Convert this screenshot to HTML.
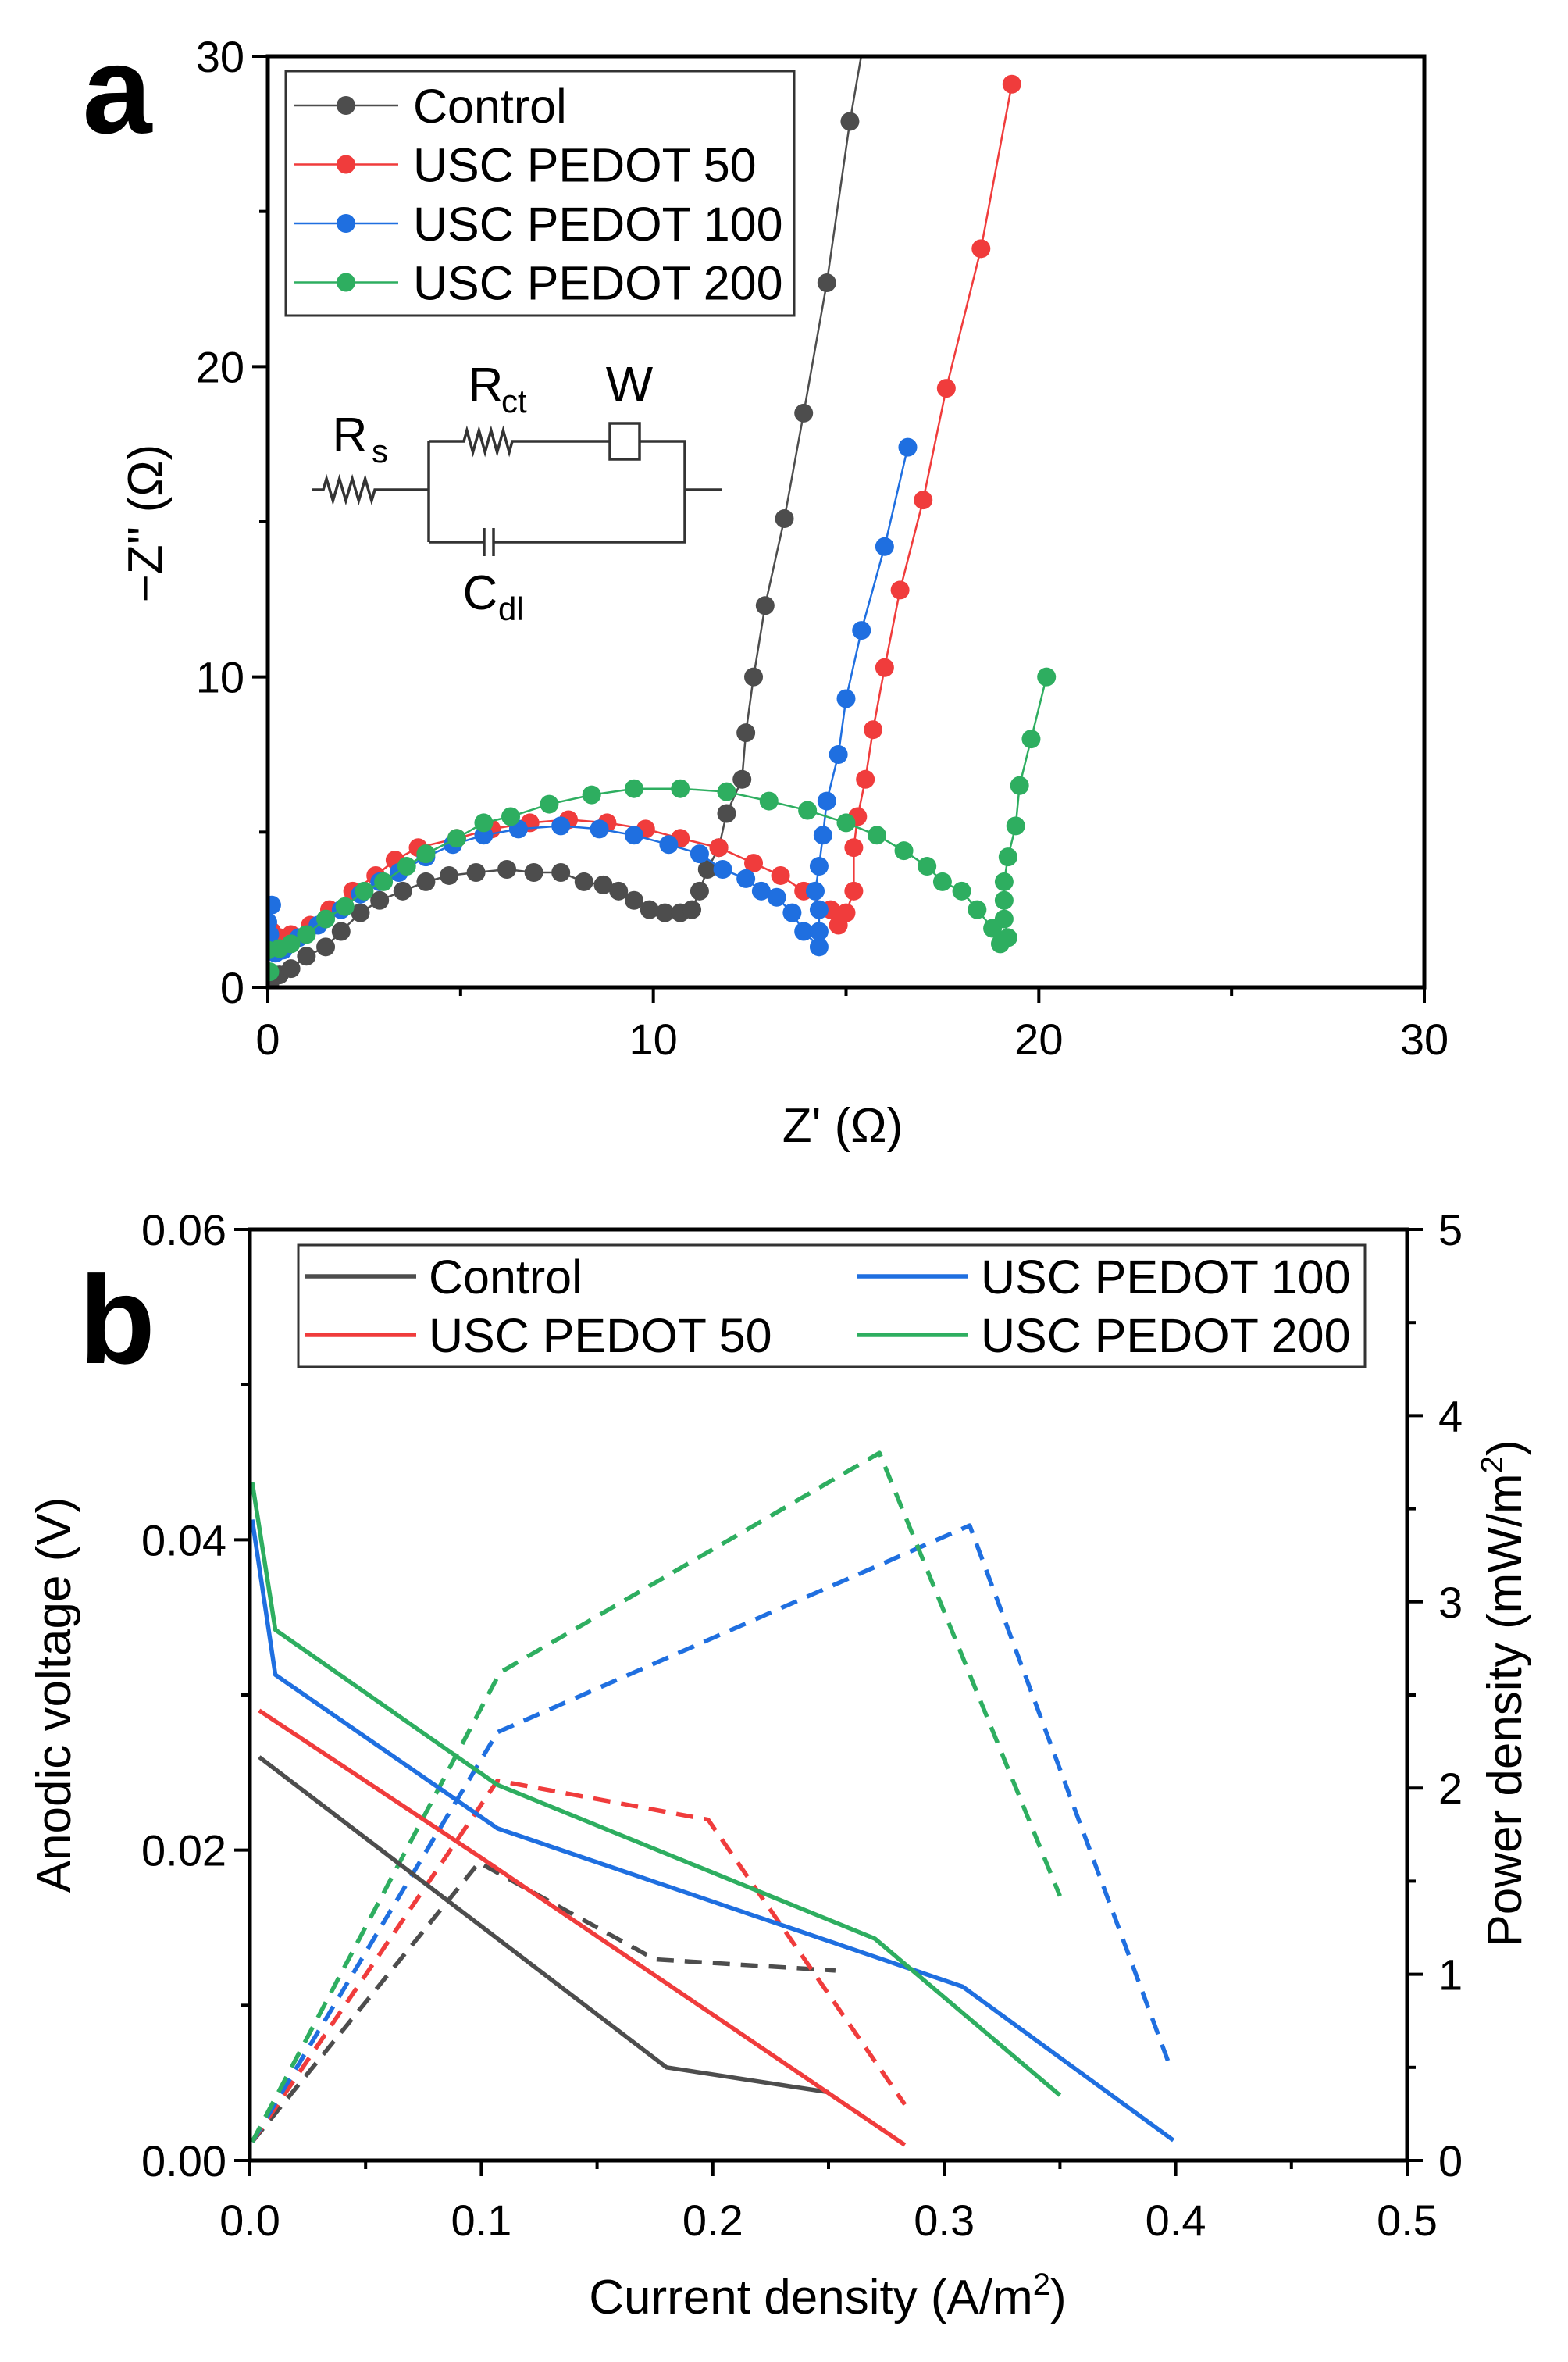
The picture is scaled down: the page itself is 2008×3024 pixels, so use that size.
<!DOCTYPE html>
<html><head><meta charset="utf-8">
<style>
html,body{margin:0;padding:0;background:#fff;}
svg{display:block;font-family:"Liberation Sans",sans-serif;}
</style></head>
<body>
<svg id="fig" width="2008" height="3024" viewBox="0 0 2008 3024" xmlns="http://www.w3.org/2000/svg"></svg>
<script>
// ---------- Panel a data (Nyquist) ----------
const ctrlX=[0.05,0.3,0.6,1.0,1.5,1.9,2.4,2.9,3.5,4.1,4.7,5.4,6.2,6.9,7.6,8.2,8.7,9.1,9.5,9.9,10.3,10.7,11.0,11.2,11.4,11.7,11.9,12.3,12.4,12.6,12.9,13.4,13.9,14.5,15.1,15.6];
const ctrlY=[0.1,0.4,0.6,1.0,1.3,1.8,2.4,2.8,3.1,3.4,3.6,3.7,3.8,3.7,3.7,3.4,3.3,3.1,2.8,2.5,2.4,2.4,2.5,3.1,3.8,4.5,5.6,6.7,8.2,10.0,12.3,15.1,18.5,22.7,27.9,31.5];
const p50X=[0.0,0.1,0.3,0.6,1.1,1.6,2.2,2.8,3.3,3.9,4.9,5.8,6.8,7.8,8.8,9.8,10.7,11.7,12.6,13.3,13.9,14.6,14.8,15.0,15.2,15.2,15.3,15.5,15.7,16.0,16.4,17.0,17.6,18.5,19.3];
const p50Y=[1.4,1.8,1.6,1.7,2.0,2.5,3.1,3.6,4.1,4.5,4.8,5.1,5.3,5.4,5.3,5.1,4.8,4.5,4.0,3.6,3.1,2.5,2.0,2.4,3.1,4.5,5.5,6.7,8.3,10.3,12.8,15.7,19.3,23.8,29.1];
const p100X=[0.0,0.1,0.05,0.2,0.4,0.8,1.3,1.9,2.4,2.9,3.4,4.1,4.8,5.6,6.5,7.6,8.6,9.5,10.4,11.2,11.8,12.4,12.8,13.2,13.6,13.9,14.3,14.3,14.3,14.2,14.3,14.4,14.5,14.8,15.0,15.4,16.0,16.6];
const p100Y=[2.1,2.65,1.7,1.1,1.2,1.6,2.0,2.5,3.0,3.4,3.7,4.2,4.6,4.9,5.1,5.2,5.1,4.9,4.6,4.3,3.8,3.5,3.1,2.9,2.4,1.8,1.3,1.8,2.5,3.1,3.9,4.9,6.0,7.5,9.3,11.5,14.2,17.4];
const p200X=[0.05,0.0,0.3,0.6,1.0,1.5,2.0,2.5,3.0,3.6,4.1,4.9,5.6,6.3,7.3,8.4,9.5,10.7,11.9,13.0,14.0,15.0,15.8,16.5,17.1,17.5,18.0,18.4,18.8,19.0,19.2,19.1,19.1,19.1,19.2,19.4,19.5,19.8,20.2];
const p200Y=[0.5,1.2,1.25,1.4,1.7,2.2,2.6,3.1,3.4,3.9,4.3,4.8,5.3,5.5,5.9,6.2,6.4,6.4,6.3,6.0,5.7,5.3,4.9,4.4,3.9,3.4,3.1,2.5,1.9,1.4,1.6,2.2,2.8,3.4,4.2,5.2,6.5,8.0,10.0];
const aTicks=[0,10,20,30];

// ---------- Panel b data (polarization & power) ----------
const ctrlI=[0.004,0.18,0.25];      const ctrlV=[0.026,0.006,0.0044];
const ctrlPI=[0.001,0.099,0.175,0.253]; const ctrlP=[0.1,1.6,1.08,1.02];
const r50I=[0.004,0.1,0.2,0.283];  const r50V=[0.029,0.0195,0.0094,0.001];
const r50PI=[0.001,0.107,0.198,0.283]; const r50P=[0.1,2.04,1.83,0.3];
const r100I=[0.001,0.011,0.107,0.308,0.399]; const r100V=[0.0413,0.0313,0.0214,0.0112,0.0013];
const r100PI=[0.001,0.107,0.311,0.398]; const r100P=[0.1,2.3,3.41,0.49];
const r200I=[0.001,0.011,0.107,0.27,0.35]; const r200V=[0.0437,0.0342,0.0242,0.0143,0.0042];
const r200PI=[0.001,0.108,0.272,0.35]; const r200P=[0.1,2.62,3.8,1.42];
const bXTicks=["0.0","0.1","0.2","0.3","0.4","0.5"];
const bYTicks=["0.00","0.02","0.04","0.06"];
const bRTicks=["0","1","2","3","4","5"];

const C={k:"#4d4d4d",r:"#f03c3c",b:"#1f6fe0",g:"#2eae60"};
const svg=document.getElementById('fig');
const NS="http://www.w3.org/2000/svg";
function el(tag,at,parent){const e=document.createElementNS(NS,tag);for(const k in at)e.setAttribute(k,at[k]);(parent||svg).appendChild(e);return e;}
function txt(s,x,y,size,anchor,parent,extra){const t=el('text',Object.assign({x:x,y:y,'font-size':size,'text-anchor':anchor||'middle',fill:'#000'},extra||{}),parent);t.textContent=s;return t;}

// ===== Panel A =====
const A={x0:343,x1:1824,y0:1264,y1:72};
const ax=v=>A.x0+(v/30)*(A.x1-A.x0);
const ay=v=>A.y0-(v/30)*(A.y0-A.y1);
const gA=el('g',{});


const clipA=el('clipPath',{id:'clipA'},gA);el('rect',{x:A.x0,y:A.y1,width:A.x1-A.x0,height:A.y0-A.y1},clipA);
function series(xs,ys,col,name){
  const g=el('g',{'clip-path':'url(#clipA)'},gA);
  
  
  const pts=xs.map((x,i)=>ax(x)+','+ay(ys[i])).join(' ');
  el('polyline',{points:pts,fill:'none',stroke:col,'stroke-width':2.5},g);
  xs.forEach((x,i)=>{const c=el('circle',{cx:ax(x),cy:ay(ys[i]),r:12,fill:col},g);
    
    });
}
series(ctrlX,ctrlY,C.k,'control-series');
series(p50X,p50Y,C.r,'pedot50-series');
series(p100X,p100Y,C.b,'pedot100-series');
series(p200X,p200Y,C.g,'pedot200-series');
el('rect',{x:A.x0,y:A.y1,width:A.x1-A.x0,height:A.y0-A.y1,fill:'none',stroke:'#000','stroke-width':5},gA);
aTicks.forEach(v=>{
  el('line',{x1:ax(v),y1:A.y0,x2:ax(v),y2:A.y0+20,stroke:'#000','stroke-width':4},gA);
  el('line',{x1:A.x0,y1:ay(v),x2:A.x0-20,y2:ay(v),stroke:'#000','stroke-width':4},gA);
  const tx=txt(String(v),ax(v),A.y0+86,56,'middle',gA);
  
  
  const ty=txt(String(v),A.x0-30,ay(v)+20,56,'end',gA);
  
  
});
[5,15,25].forEach(v=>{
  el('line',{x1:ax(v),y1:A.y0,x2:ax(v),y2:A.y0+11,stroke:'#000','stroke-width':4},gA);
  el('line',{x1:A.x0,y1:ay(v),x2:A.x0-11,y2:ay(v),stroke:'#000','stroke-width':4},gA);
});
const axT=txt("Z' (Ω)",1079,1462,62,'middle',gA);


const ayT=txt("−Z'' (Ω)",0,0,62,'middle',gA,{transform:'translate(207,670) rotate(-90)'});


const la=txt("a",150,170,160,'middle',gA,{'font-weight':'bold'});


const lgA=el('g',{},gA);


el('rect',{x:366,y:91,width:651,height:313,fill:'#fff',stroke:'#333','stroke-width':3},lgA);
[["Control",C.k],["USC PEDOT 50",C.r],["USC PEDOT 100",C.b],["USC PEDOT 200",C.g]].forEach((d,i)=>{
  const y=135+i*75.5;
  const g=el('g',{},lgA);
  
  
  el('line',{x1:376,y1:y,x2:510,y2:y,stroke:d[1],'stroke-width':2.5},g);
  el('circle',{cx:443,cy:y,r:12,fill:d[1]},g);
  txt(d[0],529,y+22,61,'start',g);
});
const ci=el('g',{stroke:'#333','stroke-width':3.5,fill:'none'},gA);


function zig(x1,x2,y){let d='M'+x1+','+y;const n=8,w=(x2-x1)/n;for(let i=0;i<n;i++){d+=' L'+(x1+w*(i+0.5))+','+(y+(i%2?14:-14));}d+=' L'+x2+','+y;return d;}
el('path',{d:'M399,627 L414,627 '+zig(414,480,627).slice(zig(414,480,627).indexOf('L'))+' L549,627'},ci);
el('path',{d:'M549,565 L549,694 M549,565 L594,565 '+zig(594,656,565).slice(zig(594,656,565).indexOf('L'))+' L781,565'},ci);
el('rect',{x:781,y:542,width:38,height:46},ci);
el('path',{d:'M819,565 L877,565 L877,694 L549,694 L620,694 M632,694 L877,694 M877,627 L925,627'},ci);
el('rect',{x:620,y:676,width:12,height:36,fill:'#fff',stroke:'none'},ci);
el('path',{d:'M620,676 L620,712 M632,676 L632,712'},ci);
const cg=el('g',{},gA);


txt("R",448,578,62,'middle',cg);txt("s",476,592,42,'start',cg);
txt("R",622,514,62,'middle',cg);txt("ct",642,528,42,'start',cg);
txt("W",806,514,64,'middle',cg);
txt("C",615,780,62,'middle',cg);txt("dl",638,794,42,'start',cg);

// ===== Panel B =====
const B={x0:320,x1:1802,y0:2766,y1:1574};
const bx=v=>B.x0+(v/0.5)*(B.x1-B.x0);
const by=v=>B.y0-(v/0.06)*(B.y0-B.y1);
const bp=v=>B.y0-(v/5)*(B.y0-B.y1);
const gB=el('g',{});


function line(xs,ys,yf,col,dash,name){
  const p=el('polyline',{points:xs.map((x,i)=>bx(x)+','+yf(ys[i])).join(' '),fill:'none',stroke:col,'stroke-width':5.5,'stroke-dasharray':dash?'22,14':'none','stroke-linejoin':'round'},gB);
  
  
}
line(ctrlPI,ctrlP,bp,C.k,true,'control-power-line');
line(r50PI,r50P,bp,C.r,true,'pedot50-power-line');
line(r100PI,r100P,bp,C.b,true,'pedot100-power-line');
line(r200PI,r200P,bp,C.g,true,'pedot200-power-line');
line(ctrlI,ctrlV,by,C.k,false,'control-voltage-line');
line(r50I,r50V,by,C.r,false,'pedot50-voltage-line');
line(r100I,r100V,by,C.b,false,'pedot100-voltage-line');
line(r200I,r200V,by,C.g,false,'pedot200-voltage-line');
el('rect',{x:B.x0,y:B.y1,width:B.x1-B.x0,height:B.y0-B.y1,fill:'none',stroke:'#000','stroke-width':5},gB);
bXTicks.forEach((s,i)=>{const v=i*0.1;
  el('line',{x1:bx(v),y1:B.y0,x2:bx(v),y2:B.y0+20,stroke:'#000','stroke-width':4},gB);
  const t=txt(s,bx(v),B.y0+96,56,'middle',gB);
  
  
  if(i<5)el('line',{x1:bx(v+0.05),y1:B.y0,x2:bx(v+0.05),y2:B.y0+11,stroke:'#000','stroke-width':4},gB);
});
bYTicks.forEach((s,i)=>{const v=i*0.02;
  el('line',{x1:B.x0,y1:by(v),x2:B.x0-20,y2:by(v),stroke:'#000','stroke-width':4},gB);
  const t=txt(s,B.x0-30,by(v)+20,56,'end',gB);
  
  
  if(i<3)el('line',{x1:B.x0,y1:by(v+0.01),x2:B.x0-11,y2:by(v+0.01),stroke:'#000','stroke-width':4},gB);
});
bRTicks.forEach((s,i)=>{const v=i;
  el('line',{x1:B.x1,y1:bp(v),x2:B.x1+20,y2:bp(v),stroke:'#000','stroke-width':4},gB);
  const t=txt(s,B.x1+40,bp(v)+20,56,'start',gB);
  
  
  if(i<5)el('line',{x1:B.x1,y1:bp(v+0.5),x2:B.x1+11,y2:bp(v+0.5),stroke:'#000','stroke-width':4},gB);
});
const bxT=el('text',{x:1060,y:2962,'font-size':62,'text-anchor':'middle'},gB);
bxT.innerHTML='Current density (A/m<tspan dy="-24" font-size="40">2</tspan><tspan dy="24">)</tspan>';


const byT=txt("Anodic voltage (V)",0,0,62,'middle',gB,{transform:'translate(90,2170) rotate(-90)'});


const brT=el('text',{'font-size':62,'text-anchor':'middle',transform:'translate(1948,2168) rotate(-90)'},gB);
brT.innerHTML='Power density (mW/m<tspan dy="-24" font-size="40">2</tspan><tspan dy="24">)</tspan>';


const lb=txt("b",150,1745,160,'middle',gB,{'font-weight':'bold'});


const lgB=el('g',{},gB);


el('rect',{x:382,y:1594,width:1366,height:156,fill:'#fff',stroke:'#333','stroke-width':3},lgB);
[["Control",C.k,391,1634],["USC PEDOT 50",C.r,391,1709],["USC PEDOT 100",C.b,1098,1634],["USC PEDOT 200",C.g,1098,1709]].forEach(d=>{
  const g=el('g',{},lgB);
  
  
  el('line',{x1:d[2],y1:d[3],x2:d[2]+142,y2:d[3],stroke:d[1],'stroke-width':5.5},g);
  txt(d[0],d[2]+158,d[3]+22,61,'start',g);
});
</script>
</body></html>
